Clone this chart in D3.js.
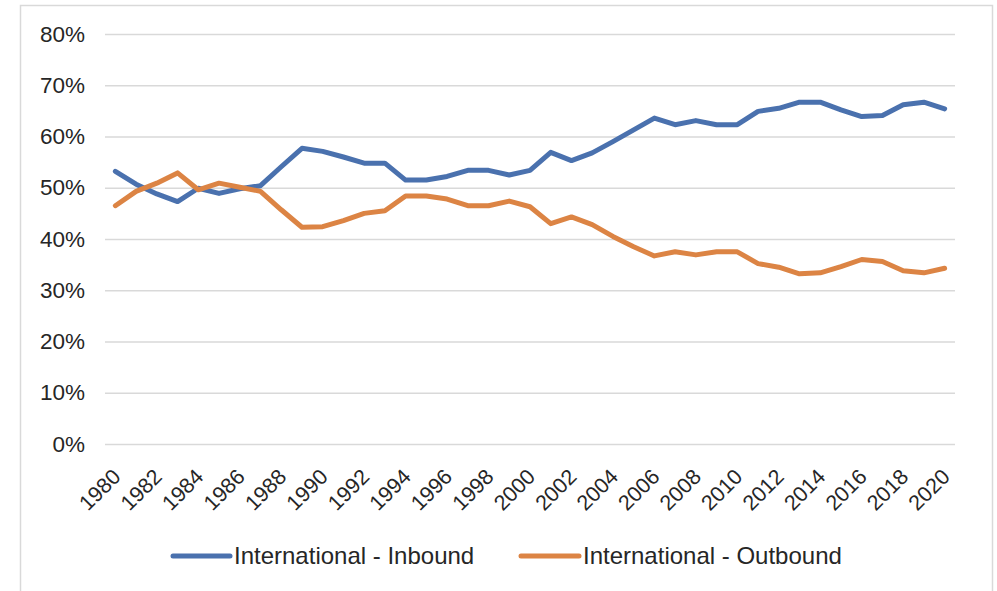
<!DOCTYPE html>
<html>
<head>
<meta charset="utf-8">
<script src="https://cdn.jsdelivr.net/npm/d3@7"></script>
<style>
  html, body { margin: 0; padding: 0; background: #ffffff; }
  svg { display: block; font-family: "Liberation Sans", Arial, sans-serif; }
</style>
</head>
<body>
<svg id="chart" width="997" height="591"></svg>
<script>
const years = d3.range(1980, 2021);
const inbound = [53.2,50.7,48.8,47.3,49.9,48.9,49.8,50.4,54.1,57.7,
                 57.1,56.0,54.8,54.8,51.5,51.5,52.2,53.4,53.4,52.5,
                 53.4,56.9,55.3,56.8,59.0,61.3,63.6,62.3,63.1,62.3,
                 62.3,64.9,65.5,66.7,66.7,65.2,63.9,64.1,66.2,66.7,65.4];
const outbound = [46.5,49.3,50.9,52.9,49.6,50.9,50.1,49.3,45.7,42.3,
                  42.4,43.6,45.0,45.5,48.4,48.4,47.8,46.5,46.5,47.4,
                  46.3,43.0,44.3,42.8,40.5,38.5,36.7,37.5,36.9,37.5,
                  37.5,35.2,34.5,33.2,33.4,34.6,36.0,35.6,33.8,33.4,34.3];
const yTicks = [0, 10, 20, 30, 40, 50, 60, 70, 80];
const xTickYears = years.filter(v => v % 2 === 0);
const seriesNames = ["International - Inbound", "International - Outbound"];
const colors = ["#4a71ae", "#dc8444"];

const svg = d3.select("#chart");
const plotLeft = 105, plotRight = 955, plotTop = 34, plotBottom = 444;

svg.append("rect").attr("x", 20.5).attr("y", 5.5).attr("width", 972).attr("height", 620)
  .attr("fill", "#ffffff").attr("stroke", "#d9d9d9").attr("stroke-width", 1.5);

const x = d3.scalePoint().domain(years).range([plotLeft, plotRight]).padding(0.5);
const y = d3.scaleLinear().domain([0, 80]).range([plotBottom, plotTop]);

const yAxis = svg.append("g").attr("transform", `translate(${plotLeft},0)`)
  .call(d3.axisLeft(y).tickValues(yTicks).tickSize(-(plotRight - plotLeft)).tickPadding(20)
        .tickFormat(d => d + "%"));
yAxis.select(".domain").remove();
yAxis.selectAll(".tick line").attr("stroke", "#d9d9d9").attr("stroke-width", 1.3);
yAxis.selectAll(".tick text").attr("fill", "#262626").attr("font-size", 22.5)
  .attr("font-family", "Liberation Sans, Arial, sans-serif");

const xAxis = svg.append("g").attr("transform", `translate(0,${plotBottom})`)
  .call(d3.axisBottom(x).tickValues(xTickYears).tickSize(0).tickPadding(0));
xAxis.select(".domain").remove();
xAxis.selectAll(".tick text")
  .attr("fill", "#262626").attr("font-size", 21.5)
  .attr("font-family", "Liberation Sans, Arial, sans-serif")
  .attr("text-anchor", "end")
  .attr("dy", 0).attr("y", 0)
  .attr("transform", "translate(6,34) rotate(-45)");

const line = d3.line().x((d, i) => x(years[i])).y(d => y(d));
[inbound, outbound].forEach((s, k) => {
  svg.append("path").datum(s).attr("d", line)
    .attr("fill", "none").attr("stroke", colors[k]).attr("stroke-width", 5)
    .attr("stroke-linejoin", "round").attr("stroke-linecap", "round");
});

const legendPos = [[173, 230, 234], [521, 579, 583]];
seriesNames.forEach((name, k) => {
  const [x1, x2, tx] = legendPos[k];
  svg.append("line").attr("x1", x1).attr("x2", x2).attr("y1", 556).attr("y2", 556)
    .attr("stroke", colors[k]).attr("stroke-width", 5).attr("stroke-linecap", "round");
  svg.append("text").attr("x", tx).attr("y", 556).attr("dy", "0.35em")
    .attr("font-size", 24).attr("fill", "#262626").text(name);
});
</script>
</body>
</html>
